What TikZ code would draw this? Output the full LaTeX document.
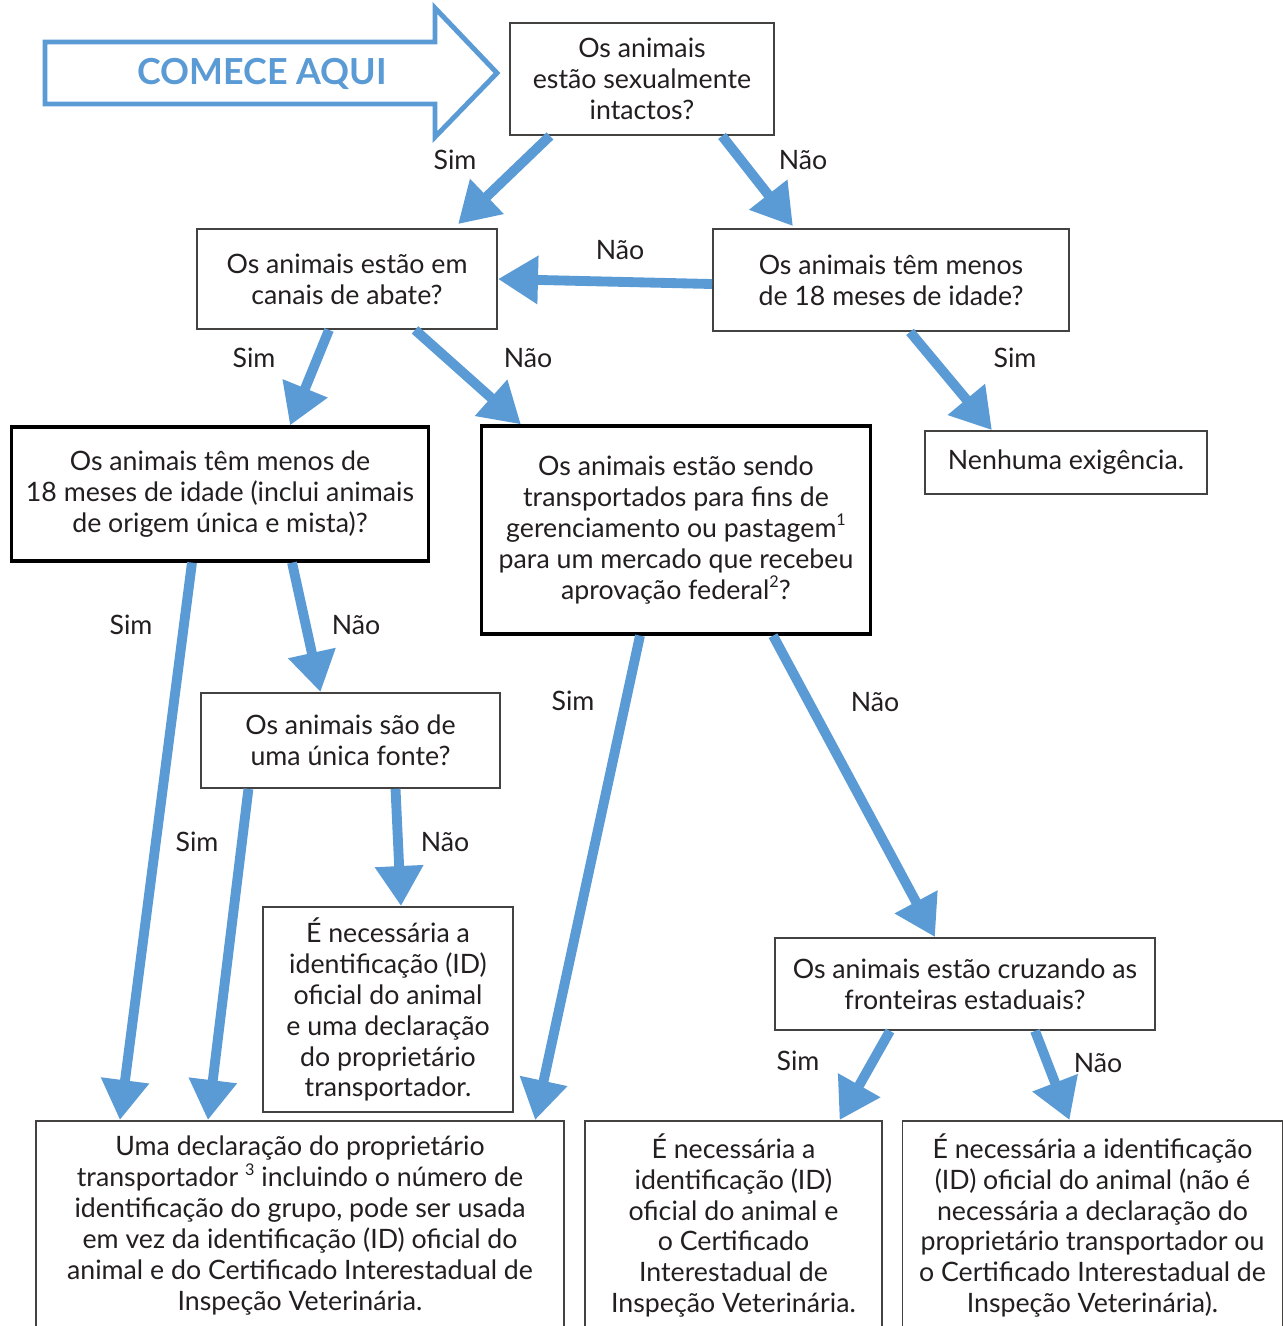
\documentclass[tikz,border=0pt]{standalone}
\usepackage{fontspec}
\setmainfont{Lato}
\usetikzlibrary{arrows.meta,positioning}
\definecolor{flowblue}{HTML}{5B9BD5}
\definecolor{ink}{HTML}{231F20}
\newcommand{\fnote}[1]{\raisebox{0.85ex}{\fontsize{4.6}{5}\selectfont #1}}
\tikzstyle{question}=[rectangle,draw=ink!85,line width=0.5pt,fill=white,
align=center,text=ink,inner sep=2pt,font=\fontsize{7.6}{8.8}\selectfont]
\tikzstyle{bquestion}=[question,draw=black,line width=0.9pt]
\tikzstyle{answer}=[text=ink,font=\fontsize{7.6}{8.8}\selectfont]
\tikzstyle{flow}=[draw=flowblue,fill=flowblue,line width=2.8pt,
-{Triangle[length=0.4cm,width=0.46cm]}]

\begin{document}
\begin{tikzpicture}[x=0.01cm,y=-0.01cm]
            \useasboundingbox (0,0) rectangle (1283,1326);

            % START ARROW
            \draw[flowblue,line width=1.4pt,fill=white,line join=miter]
              (45,42) -- (435,42) -- (435,8) -- (497,73) -- (435,137)
              -- (435,104) -- (45,104) -- cycle;
            \node[text=flowblue,font=\bfseries\fontsize{10.2}{12}\selectfont] (comece) at (262,74) {COMECE AQUI};

            % QUESTIONS
            \node[question,minimum width=2.64cm,minimum height=1.12cm] (start) at (642,79)
              {Os animais\\estão sexualmente\\intactos?};
            \node[question,minimum width=3.00cm,minimum height=1.00cm] (canais) at (347,279)
              {Os animais estão em\\canais de abate?};
            \node[question,minimum width=3.56cm,minimum height=1.02cm] (menos) at (891,280)
              {Os animais têm menos\\de 18 meses de idade?};
            \node[question,minimum width=2.82cm,minimum height=0.63cm] (nada) at (1066,462.5)
              {Nenhuma exigência.};
            \node[bquestion,minimum width=4.16cm,minimum height=1.34cm] (menosB) at (220,494)
              {Os animais têm menos de\\18 meses de idade (inclui animais\\de origem única e mista)?};
            \node[bquestion,minimum width=3.88cm,minimum height=2.08cm] (transp) at (676,530)
              {Os animais estão sendo\\transportados para fins de\\gerenciamento ou pastagem\fnote{1}\\para um mercado que recebeu\\aprovação federal\fnote{2}?};
            \node[question,minimum width=2.99cm,minimum height=0.95cm] (unica) at (350.5,740.5)
              {Os animais são de\\uma única fonte?};
            \node[question,minimum width=3.80cm,minimum height=0.92cm] (cruza) at (965,984)
              {Os animais estão cruzando as\\fronteiras estaduais?};

            % RESULTS
            \node[question,minimum width=2.50cm,minimum height=2.05cm] (idecl) at (388,1009.5)
              {É necessária a\\identificação (ID)\\oficial do animal\\e uma declaração\\do proprietário\\transportador.};
            \node[question,minimum width=5.28cm,minimum height=2.09cm] (declara) at (300,1225.5)
              {Uma declaração do proprietário\\transportador \fnote{3} incluindo o número de\\identificação do grupo, pode ser usada\\em vez da identificação (ID) oficial do\\animal e do Certificado Interestadual de\\Inspeção Veterinária.};
            \node[question,minimum width=2.97cm,minimum height=2.09cm] (idcert) at (733.5,1225.5)
              {É necessária a\\identificação (ID)\\oficial do animal e\\o Certificado\\Interestadual de\\Inspeção Veterinária.};
            \node[question,minimum width=3.80cm,minimum height=2.09cm] (idonly) at (1092.5,1225.5)
              {É necessária a identificação\\(ID) oficial do animal (não é\\necessária a declaração do\\proprietário transportador ou\\o Certificado Interestadual de\\Inspeção Veterinária).};

            % CONNECTIONS
            \draw[flow] ([xshift=-0.92cm]start.south) -- ([xshift=1.11cm,yshift=0.04cm]canais.north);
            \draw[flow] ([xshift=0.80cm]start.south) -- ([xshift=-0.98cm,yshift=0.02cm]menos.north);
            \draw[flow] ([yshift=-0.04cm]menos.west) -- (canais.east);
            \draw[flow] ([xshift=-0.18cm]canais.south) -- ([xshift=0.70cm]menosB.north);
            \draw[flow] ([xshift=0.68cm]canais.south) -- ([xshift=-1.55cm]transp.north);
            \draw[flow] ([xshift=0.19cm]menos.south) -- ([xshift=-0.74cm]nada.north);
            \draw[flow] ([xshift=-0.28cm]menosB.south) -- ([xshift=-1.80cm]declara.north);
            \draw[flow] ([xshift=0.72cm]menosB.south) -- ([xshift=-0.30cm]unica.north);
            \draw[flow] ([xshift=-1.02cm]unica.south) -- ([xshift=-0.92cm]declara.north);
            \draw[flow] ([xshift=0.45cm]unica.south) -- ([xshift=0.13cm]idecl.north);
            \draw[flow] ([xshift=-0.36cm]transp.south) -- ([xshift=2.35cm]declara.north);
            \draw[flow] ([xshift=0.97cm]transp.south) -- ([xshift=-0.30cm]cruza.north);
            \draw[flow] ([xshift=-0.75cm]cruza.south) -- ([xshift=1.06cm]idcert.north);
            \draw[flow] ([xshift=0.70cm]cruza.south) -- ([xshift=-0.23cm]idonly.north);

            % LABELS
            \node[answer] (sim1) at (455,160) {Sim};
            \node[answer] (nao1) at (803,160) {Não};
            \node[answer] (nao2) at (620,250) {Não};
            \node[answer] (sim2) at (254,358) {Sim};
            \node[answer] (nao3) at (528,358) {Não};
            \node[answer] (sim3) at (1015,358) {Sim};
            \node[answer] (sim4) at (131,625) {Sim};
            \node[answer] (nao4) at (356,625) {Não};
            \node[answer] (sim5) at (573,701) {Sim};
            \node[answer] (nao5) at (875,702) {Não};
            \node[answer] (sim6) at (197,842) {Sim};
            \node[answer] (nao6) at (445,842) {Não};
            \node[answer] (sim7) at (798,1061) {Sim};
            \node[answer] (nao7) at (1098,1063) {Não};

        \end{tikzpicture}
\end{document}
